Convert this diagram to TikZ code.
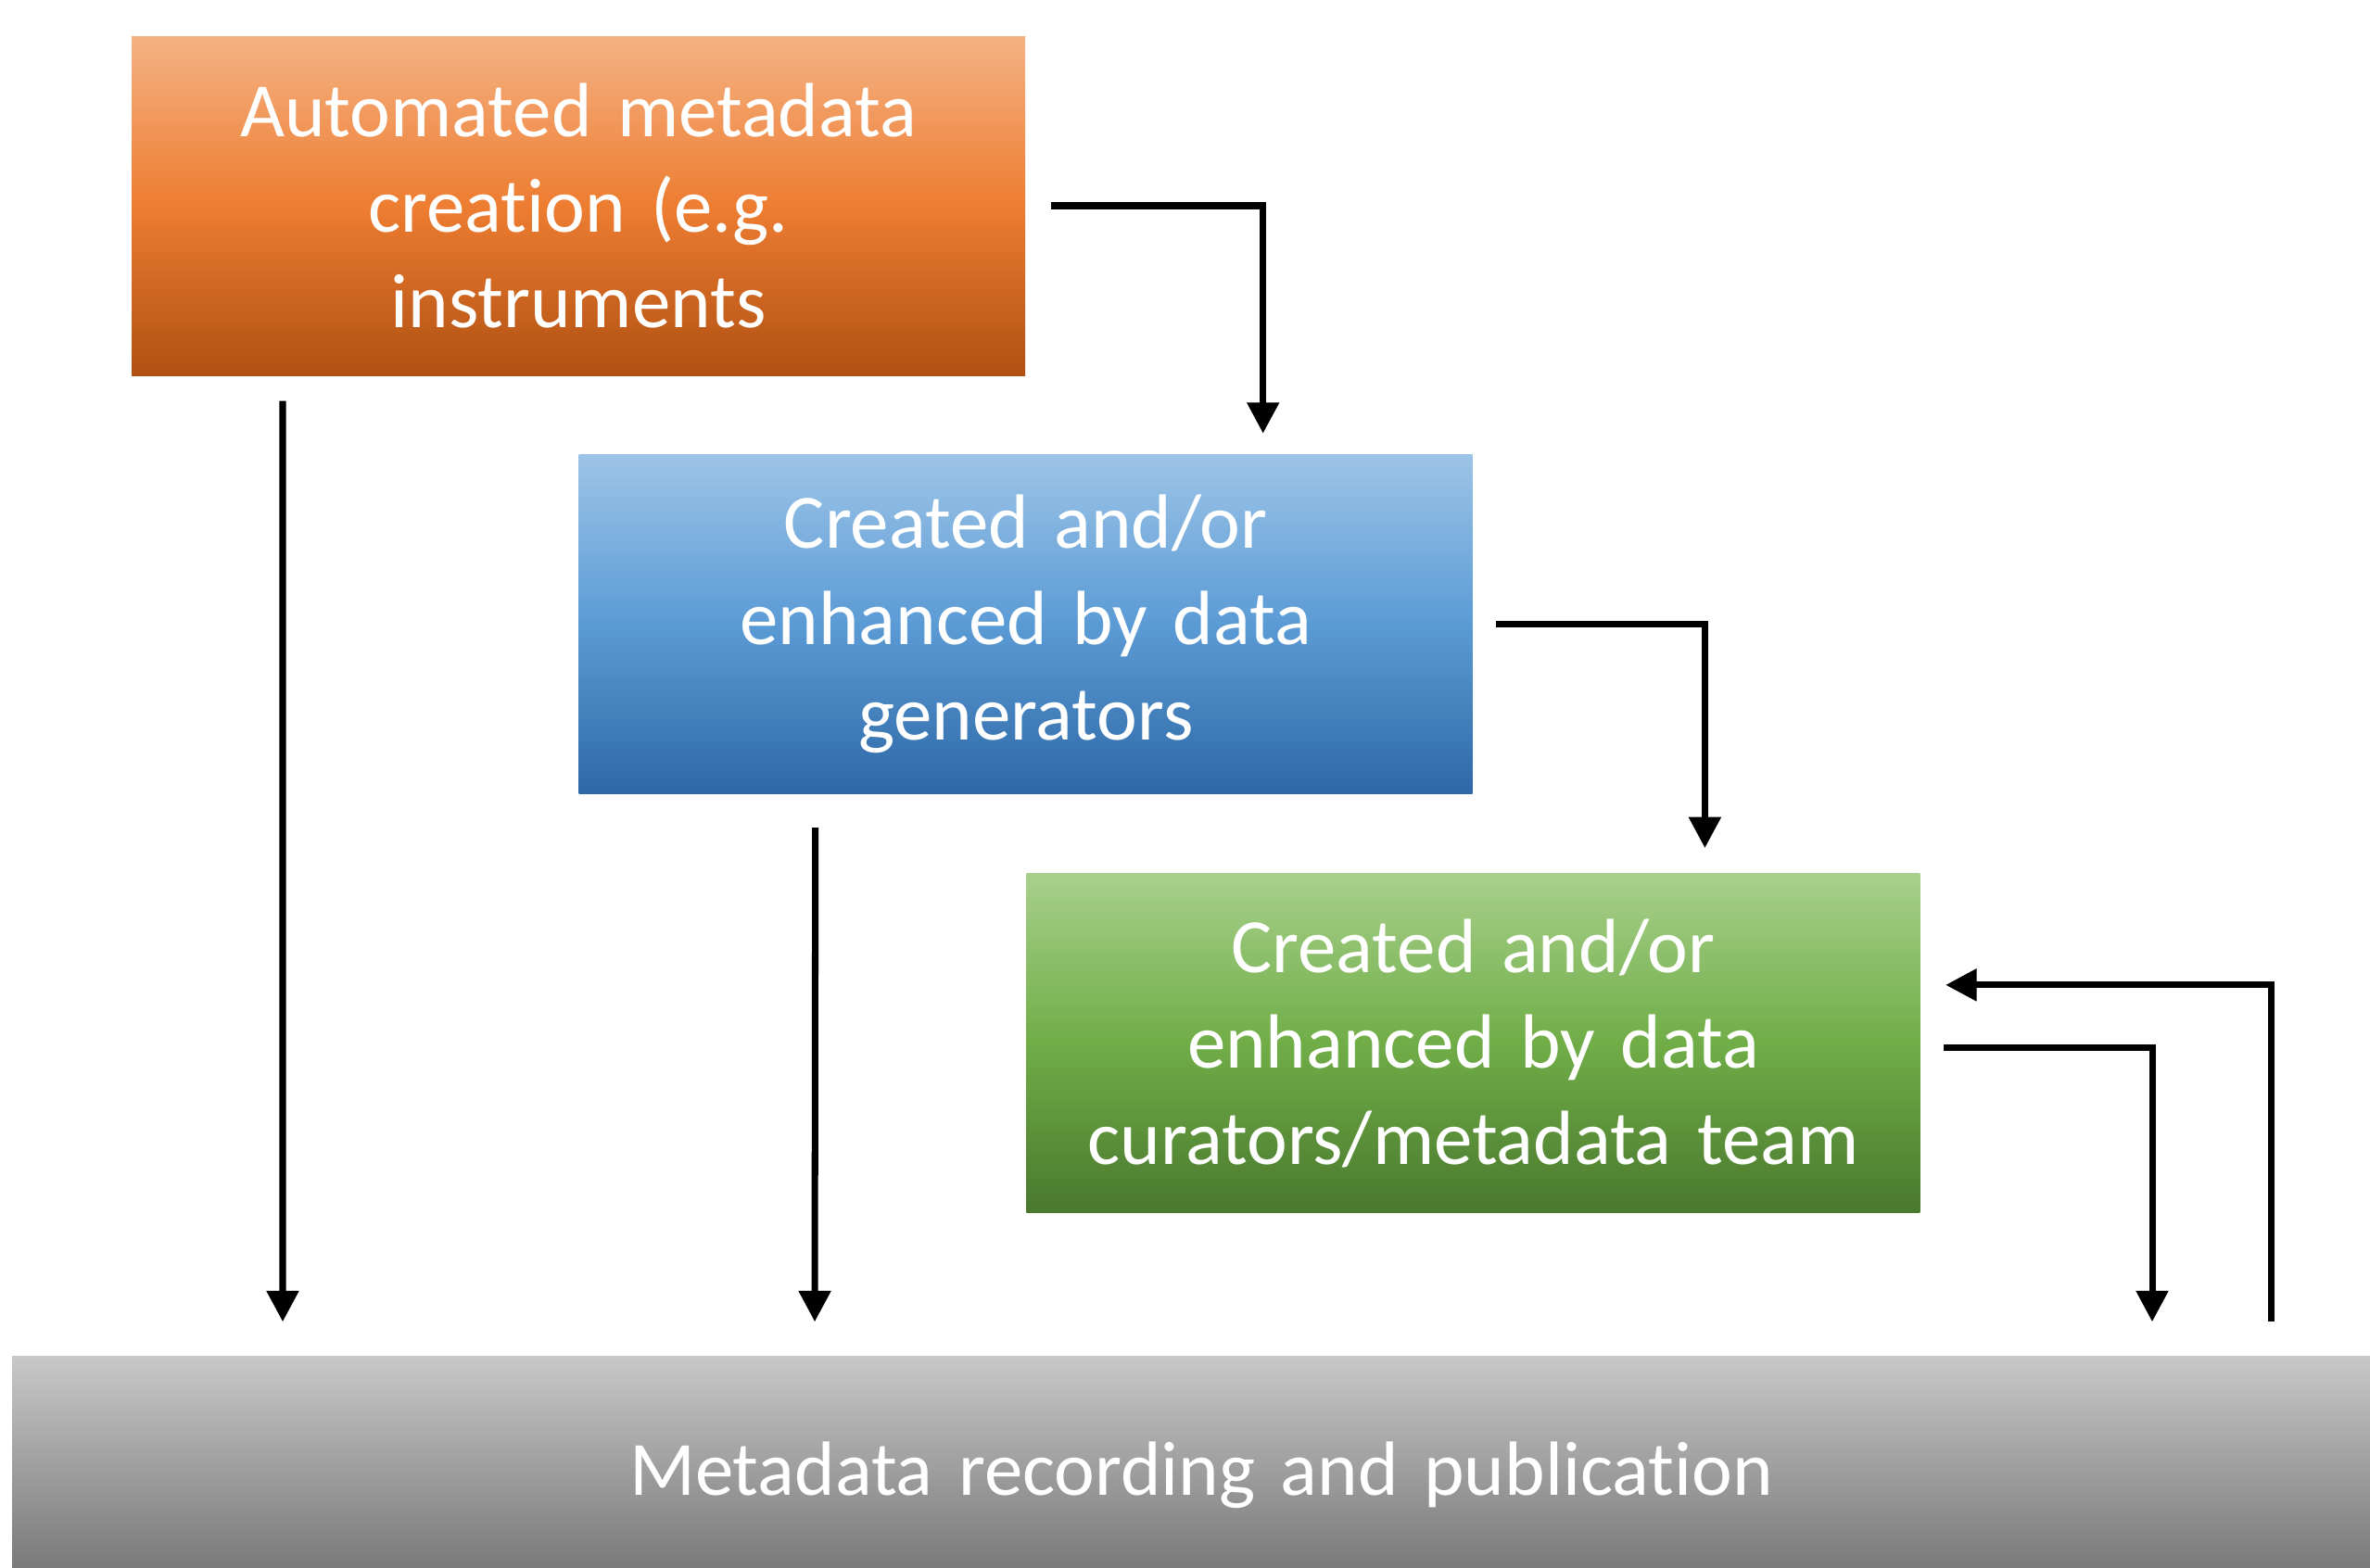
\documentclass[tikz,border=0pt]{standalone}
\usepackage{fontspec}
\setmainfont{Carlito}[Ligatures=NoCommon, WordSpace=0.85]
\usetikzlibrary{positioning,arrows.meta}

\definecolor{orTop}{RGB}{245,178,132}
\definecolor{orMid}{RGB}{237,125,49}
\definecolor{orBot}{RGB}{176,80,18}
\definecolor{blTop}{RGB}{157,196,231}
\definecolor{blMid}{RGB}{91,155,213}
\definecolor{blBot}{RGB}{46,104,166}
\definecolor{grTop}{RGB}{168,208,140}
\definecolor{grMid}{RGB}{112,173,71}
\definecolor{grBot}{RGB}{74,120,46}
\definecolor{gyTop}{RGB}{200,200,200}
\definecolor{gyBot}{RGB}{122,122,122}

\begin{document}
\begin{tikzpicture}[
  box/.style={rectangle, minimum width=9.64cm, minimum height=3.66cm, text width=9.2cm,
    align=center, text=white, inner sep=0pt, font=\fontsize{23.6}{29.4}\selectfont},
  arr/.style={-{Triangle[length=9.5pt,width=9.5pt]}, line width=2pt}
]
\useasboundingbox (0,0) rectangle (25.57,-16.91);

% the three sources
\node[box, top color=orTop, bottom color=orBot, middle color=orMid] (auto) at (6.24,-2.22)
  {Automated metadata\\creation (e.g.\\instruments};
\node[box, top color=blTop, bottom color=blBot, middle color=blMid, below=0.84cm of auto.south east] (gens)
  {Created and/or\\enhanced by data\\generators};
\node[box, top color=grTop, bottom color=grBot, middle color=grMid, below=0.85cm of gens.south east] (cur)
  {Created and/or\\enhanced by data\\curators/metadata team};

% bottom bar
\node[box, minimum width=25.66cm, minimum height=2.28cm, text width=25cm,
  text height=27pt, text depth=6pt, top color=gyTop, bottom color=gyBot] (pub) at (12.96,-15.77)
  {Metadata recording and publication};

% connectors
\draw[arr, shorten <=0.27cm, shorten >=0.22cm] (auto.east) -| ([xshift=2.56cm]gens.north);
\draw[arr, shorten <=0.25cm, shorten >=0.27cm] (gens.east) -| ([xshift=2.5cm]cur.north);
\draw[arr, shorten <=0.27cm, shorten >=0.36cm] ([xshift=-3.19cm]auto.south) -- ([xshift=-9.91cm]pub.north);
\draw[arr, shorten <=0.36cm, shorten >=0.36cm] ([xshift=-2.27cm]gens.south) -- ([xshift=-4.17cm]pub.north);
\draw[arr, shorten <=0.25cm, shorten >=0.36cm] ([yshift=-0.05cm]cur.east) -| ([xshift=10.26cm]pub.north);
\draw[arr, shorten <=0.36cm, shorten >=0.27cm] ([xshift=11.54cm]pub.north) |- ([yshift=0.63cm]cur.east);
\end{tikzpicture}
\end{document}
